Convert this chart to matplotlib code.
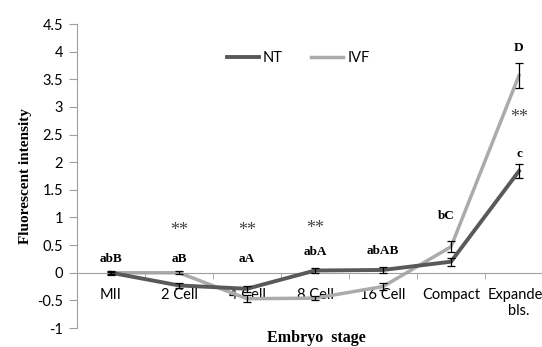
import matplotlib.pyplot as plt

stages = ['MII', '2 Cell', '4 Cell', '8 Cell', '16 Cell', 'Compact', 'Expanded\nbls.']
nt = [0.0, -0.23, -0.29, 0.04, 0.05, 0.2, 1.84]
nt_err = [0.04, 0.05, 0.05, 0.05, 0.05, 0.07, 0.12]
ivf = [0.0, 0.0, -0.47, -0.46, -0.25, 0.47, 3.57]
ivf_err = [0.02, 0.03, 0.06, 0.04, 0.07, 0.1, 0.23]

# letter labels over the points and the ** marks (x index, y value, text)
letters = [(0, 0.25, 'abB'), (1, 0.25, 'aB'), (2, 0.25, 'aA'), (3, 0.38, 'abA'),
           (4, 0.4, 'abAB'), (4.93, 1.03, 'bC'), (6, 2.15, 'c'), (6, 4.07, 'D')]
stars = [(1, 0.76), (2, 0.76), (3, 0.8), (6, 2.8)]

plt.rcParams['font.family'] = ['Lato', 'DejaVu Sans']

fig = plt.figure(figsize=(5.42, 3.47), dpi=100)
ax = fig.add_axes([77 / 542, 19 / 347, 476 / 542, 304 / 347])

x = list(range(len(stages)))
ax.plot(x, nt, color='#595959', lw=2.8, label='NT', zorder=3)
ax.plot(x, ivf, color='#ababab', lw=2.5, label='IVF', zorder=2)
ax.errorbar(x, nt, yerr=nt_err, fmt='none', ecolor='black', elinewidth=0.9,
            capsize=3, capthick=0.9, zorder=4)
ax.errorbar(x, ivf, yerr=ivf_err, fmt='none', ecolor='black', elinewidth=0.9,
            capsize=3, capthick=0.9, zorder=4)

for xi, yi, s in letters:
    ax.text(xi, yi, s, ha='center', va='center', fontsize=9.5,
            fontweight='bold', family='Liberation Serif')
for xi, yi in stars:
    ax.text(xi, yi, '**', ha='center', va='center', fontsize=13,
            family='Liberation Serif', color='#444444')

ax.set_xlim(-0.5, 6.5)
ax.set_ylim(-1, 4.5)
ax.set_yticks([-1, -0.5, 0, 0.5, 1, 1.5, 2, 2.5, 3, 3.5, 4, 4.5])
ax.set_yticklabels(['-1', '-0.5', '0', '0.5', '1', '1.5', '2', '2.5', '3',
                    '3.5', '4', '4.5'])
ax.set_xticks(x)
ax.set_xticklabels(stages, linespacing=1.0)
ax.set_xticks([i + 0.5 for i in range(6)], minor=True)

ax.spines['top'].set_visible(False)
ax.spines['right'].set_visible(False)
ax.spines['bottom'].set_position(('data', 0))
ax.spines['bottom'].set_color('#a0a0a0')
ax.spines['left'].set_color('#a0a0a0')
ax.tick_params(axis='y', length=6, color='#a0a0a0', labelsize=10.5, pad=4)
ax.tick_params(axis='x', which='major', length=0, labelsize=10.5, pad=11)
ax.tick_params(axis='x', which='minor', length=4, color='#a0a0a0')

ax.set_ylabel('Fluorescent intensity', fontsize=11, fontweight='bold',
              family='Liberation Serif', labelpad=4)
fig.text(316 / 542, 9 / 347, 'Embryo  stage', ha='center', va='center',
         fontsize=11.5, fontweight='bold', family='Liberation Serif')

ax.legend(loc='center', bbox_to_anchor=(2.75, 3.89), bbox_transform=ax.transData,
          ncol=2, frameon=False, handlelength=2.2, columnspacing=1.9,
          handletextpad=0.3, fontsize=10.5)

fig.savefig('out.png')
